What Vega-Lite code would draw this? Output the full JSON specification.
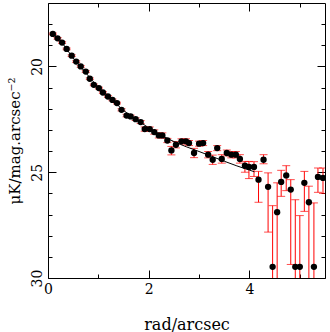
{
  "$schema": "https://vega.github.io/schema/vega-lite/v6.json",
  "width": 277,
  "height": 275,
  "autosize": "none",
  "padding": {"left": 48, "top": 3, "right": 5, "bottom": 54},
  "config": {
    "view": {"stroke": null},
    "axis": {"labelFont": "DejaVu Serif", "titleFont": "DejaVu Serif", "labelColor": "black", "titleColor": "black", "domainColor": "black", "tickColor": "black", "grid": false, "titleFontWeight": "normal", "labelFontSize": 14, "titleFontSize": 16}
  },
  "datasets": {
    "pts": [
      {"r": 0.096, "mu": 18.46, "lo": 18.42, "hi": 18.50},
      {"r": 0.19, "mu": 18.67, "lo": 18.63, "hi": 18.71},
      {"r": 0.28, "mu": 18.87, "lo": 18.83, "hi": 18.91},
      {"r": 0.37, "mu": 19.17, "lo": 19.13, "hi": 19.21},
      {"r": 0.47, "mu": 19.49, "lo": 19.45, "hi": 19.53},
      {"r": 0.56, "mu": 19.77, "lo": 19.73, "hi": 19.81},
      {"r": 0.65, "mu": 20.0, "lo": 19.96, "hi": 20.04},
      {"r": 0.75, "mu": 20.24, "lo": 20.2, "hi": 20.28},
      {"r": 0.83, "mu": 20.58, "lo": 20.54, "hi": 20.62},
      {"r": 0.91, "mu": 20.87, "lo": 20.83, "hi": 20.91},
      {"r": 1.01, "mu": 21.02, "lo": 20.98, "hi": 21.06},
      {"r": 1.09, "mu": 21.23, "lo": 21.19, "hi": 21.27},
      {"r": 1.19, "mu": 21.42, "lo": 21.38, "hi": 21.46},
      {"r": 1.28, "mu": 21.58, "lo": 21.54, "hi": 21.62},
      {"r": 1.37, "mu": 21.73, "lo": 21.69, "hi": 21.77},
      {"r": 1.46, "mu": 22.05, "lo": 22.0, "hi": 22.1},
      {"r": 1.56, "mu": 22.32, "lo": 22.26, "hi": 22.38},
      {"r": 1.64, "mu": 22.36, "lo": 22.3, "hi": 22.42},
      {"r": 1.74, "mu": 22.49, "lo": 22.43, "hi": 22.55},
      {"r": 1.84, "mu": 22.63, "lo": 22.56, "hi": 22.7},
      {"r": 1.92, "mu": 22.96, "lo": 22.86, "hi": 23.06},
      {"r": 2.02, "mu": 22.96, "lo": 22.86, "hi": 23.06},
      {"r": 2.11, "mu": 23.1, "lo": 23.0, "hi": 23.2},
      {"r": 2.2, "mu": 23.26, "lo": 23.14, "hi": 23.38},
      {"r": 2.27, "mu": 23.26, "lo": 23.14, "hi": 23.38},
      {"r": 2.37, "mu": 23.5, "lo": 23.4, "hi": 23.6},
      {"r": 2.45, "mu": 23.97, "lo": 23.78, "hi": 24.18},
      {"r": 2.54, "mu": 23.7, "lo": 23.55, "hi": 23.85},
      {"r": 2.65, "mu": 23.54, "lo": 23.42, "hi": 23.66},
      {"r": 2.74, "mu": 23.54, "lo": 23.42, "hi": 23.66},
      {"r": 2.8, "mu": 23.62, "lo": 23.5, "hi": 23.74},
      {"r": 2.9, "mu": 24.09, "lo": 23.87, "hi": 24.31},
      {"r": 3.0, "mu": 23.65, "lo": 23.53, "hi": 23.77},
      {"r": 3.08, "mu": 23.62, "lo": 23.5, "hi": 23.74},
      {"r": 3.18, "mu": 24.17, "lo": 24.02, "hi": 24.32},
      {"r": 3.27, "mu": 24.41, "lo": 24.19, "hi": 24.63},
      {"r": 3.36, "mu": 23.86, "lo": 23.74, "hi": 23.98},
      {"r": 3.45, "mu": 24.37, "lo": 24.17, "hi": 24.57},
      {"r": 3.55, "mu": 24.09, "lo": 23.95, "hi": 24.23},
      {"r": 3.64, "mu": 24.17, "lo": 24.02, "hi": 24.32},
      {"r": 3.73, "mu": 24.17, "lo": 24.02, "hi": 24.32},
      {"r": 3.81, "mu": 24.37, "lo": 24.17, "hi": 24.57},
      {"r": 3.91, "mu": 24.69, "lo": 24.49, "hi": 25.0},
      {"r": 3.99, "mu": 24.75, "lo": 24.49, "hi": 25.3},
      {"r": 4.09, "mu": 24.75, "lo": 24.5, "hi": 25.2},
      {"r": 4.18, "mu": 25.35, "lo": 24.96, "hi": 26.42},
      {"r": 4.28, "mu": 24.41, "lo": 24.17, "hi": 24.6},
      {"r": 4.37, "mu": 25.69, "lo": 25.03, "hi": 27.83},
      {"r": 4.46, "mu": 29.47, "lo": 26.58, "hi": 32},
      {"r": 4.55, "mu": 26.89, "lo": 25.5, "hi": 32},
      {"r": 4.63, "mu": 25.46, "lo": 24.91, "hi": 26.14},
      {"r": 4.73, "mu": 25.15, "lo": 24.69, "hi": 25.87},
      {"r": 4.82, "mu": 25.82, "lo": 25.35, "hi": 29.36},
      {"r": 4.91, "mu": 29.47, "lo": 26.3, "hi": 32},
      {"r": 5.0, "mu": 29.47, "lo": 27.05, "hi": 32},
      {"r": 5.09, "mu": 25.5, "lo": 24.96, "hi": 26.85},
      {"r": 5.18, "mu": 26.42, "lo": 25.66, "hi": 32},
      {"r": 5.28, "mu": 29.47, "lo": 26.45, "hi": 32},
      {"r": 5.36, "mu": 25.22, "lo": 24.8, "hi": 25.95},
      {"r": 5.46, "mu": 25.27, "lo": 24.8, "hi": 26.0}
    ],
    "fit": [
      {"r": 0.09, "mu": 18.42},
      {"r": 0.25, "mu": 18.8},
      {"r": 0.5, "mu": 19.6},
      {"r": 0.75, "mu": 20.3},
      {"r": 1.0, "mu": 20.98},
      {"r": 1.25, "mu": 21.52},
      {"r": 1.5, "mu": 22.08},
      {"r": 1.75, "mu": 22.5},
      {"r": 2.0, "mu": 22.9},
      {"r": 2.25, "mu": 23.25},
      {"r": 2.5, "mu": 23.55},
      {"r": 2.75, "mu": 23.8},
      {"r": 3.0, "mu": 24.02},
      {"r": 3.25, "mu": 24.25},
      {"r": 3.5, "mu": 24.48},
      {"r": 3.75, "mu": 24.7},
      {"r": 4.0, "mu": 24.9},
      {"r": 4.1, "mu": 24.98}
    ]
  },
  "layer": [
    {
      "data": {"name": "pts"},
      "mark": {"type": "rule", "color": "#ff0000", "strokeWidth": 1, "clip": true},
      "encoding": {
        "x": {"field": "r", "type": "quantitative", "scale": {"domain": [0, 5.5], "nice": false, "zero": false},
          "axis": {"orient": "bottom", "values": [0, 1, 2, 3, 4, 5], "tickSize": {"condition": {"test": "datum.value % 2 === 0", "value": -8}, "value": -4}, "labelExpr": "datum.value % 2 === 0 ? datum.label : ''", "title": "rad/arcsec", "labelPadding": 12, "titlePadding": 20, "labelFlush": false}},
        "y": {"field": "lo", "type": "quantitative", "scale": {"domain": [17, 30], "reverse": true, "nice": false, "zero": false},
          "axis": {"orient": "left", "values": [18, 19, 20, 21, 22, 23, 24, 25, 26, 27, 28, 29, 30], "tickSize": {"condition": {"test": "datum.value % 5 === 0", "value": -8}, "value": -4}, "labelExpr": "datum.value % 5 === 0 ? datum.label : ''", "labelAngle": -90, "labelAlign": "center", "labelBaseline": "bottom", "labelPadding": 12, "labelFlush": false, "title": "μK/mag.arcsec⁻²", "titleFontSize": 15, "titlePadding": 8}},
        "y2": {"field": "hi"}
      }
    },
    {
      "data": {"name": "pts"},
      "mark": {"type": "tick", "color": "#ff0000", "orient": "horizontal", "size": 8, "thickness": 1, "clip": true},
      "encoding": {
        "x": {"field": "r", "type": "quantitative", "axis": null},
        "y": {"field": "lo", "type": "quantitative", "axis": null}
      }
    },
    {
      "data": {"name": "pts"},
      "mark": {"type": "tick", "color": "#ff0000", "orient": "horizontal", "size": 8, "thickness": 1, "clip": true},
      "encoding": {
        "x": {"field": "r", "type": "quantitative", "axis": null},
        "y": {"field": "hi", "type": "quantitative", "axis": null}
      }
    },
    {
      "data": {"name": "pts"},
      "mark": {"type": "circle", "color": "black", "size": 40, "opacity": 1, "clip": true},
      "encoding": {
        "x": {"field": "r", "type": "quantitative", "axis": null},
        "y": {"field": "mu", "type": "quantitative", "axis": null}
      }
    },
    {
      "data": {"name": "fit"},
      "mark": {"type": "line", "color": "black", "strokeWidth": 1, "interpolate": "monotone", "clip": true},
      "encoding": {
        "x": {"field": "r", "type": "quantitative",
          "axis": {"orient": "top", "values": [0, 1, 2, 3, 4, 5], "tickSize": {"condition": {"test": "datum.value % 2 === 0", "value": -8}, "value": -4}, "labels": false, "title": null}},
        "y": {"field": "mu", "type": "quantitative",
          "axis": {"orient": "right", "values": [18, 19, 20, 21, 22, 23, 24, 25, 26, 27, 28, 29, 30], "tickSize": {"condition": {"test": "datum.value % 5 === 0", "value": -8}, "value": -4}, "labels": false, "title": null}}
      }
    }
  ],
  "resolve": {"axis": {"x": "independent", "y": "independent"}}
}
